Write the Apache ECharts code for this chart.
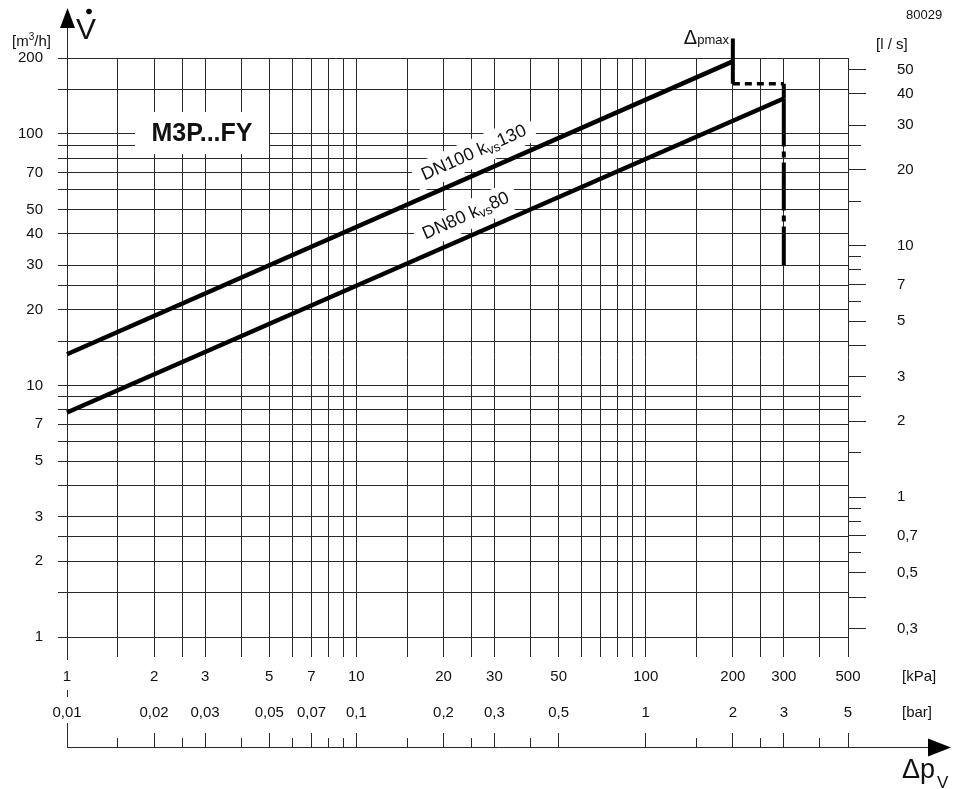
<!DOCTYPE html>
<html>
<head>
<meta charset="utf-8">
<script src="https://cdn.jsdelivr.net/npm/echarts@6/dist/echarts.min.js"></script>
<style>
html,body{margin:0;padding:0;background:#fff;}
#c{width:962px;height:789px;}
</style>
</head>
<body>
<div id="c"></div>
<script>
// ---------- axis ranges ----------
const xMinKpa = 1, xMaxKpa = 500;
const yMinM3h = 1, yMaxM3h = 200;
const kpaPerBar = 100;
const m3hPerLs = 3.6;

// ---------- grid / tick values ----------
const vGridKpa = [1,1.5,2,2.5,3,4,5,6,7,8,9,10,15,20,25,30,40,50,60,70,80,90,100,150,200,250,300,400,500];
const hGridM3h = [1,1.5,2,2.5,3,4,5,6,7,8,9,10,15,20,25,30,40,50,60,70,80,90,100,150,200];
const kpaLabels = [1,2,3,5,7,10,20,30,50,100,200,300,500];
const m3hLabels = [200,100,70,50,40,30,20,10,7,5,3,2,1];
const barMajorTicks = [0.01,0.02,0.03,0.05,0.07,0.1,0.2,0.3,0.5,1,2,3,5];
const barMinorTicks = [0.015,0.025,0.04,0.06,0.08,0.09,0.15,0.25,0.4,1.5,2.5,4];
const barLabels = [0.01,0.02,0.03,0.05,0.07,0.1,0.2,0.3,0.5,1,2,3,5];
const lsMajorTicks = [50,40,30,20,10,7,5,4,3,2,1,0.7,0.5,0.4,0.3];
const lsMinorTicks = [25,15,9,8,6,2.5,1.5,0.9,0.8,0.6];
const lsLabels = [50,40,30,20,10,7,5,3,2,1,0.7,0.5,0.3];

// ---------- series values ----------
const dn100Kpa = [1, 200];
const dn100M3h = [13.3, 194];
const dn80Kpa = [1, 300];
const dn80M3h = [7.8, 138];
const dpmaxTopKpa = [200, 200];
const dpmaxTopM3h = [239, 158];
const dpmaxDashKpa = [200, 300];
const dpmaxDashM3h = [158, 158];
const dpmaxStepKpa = [300, 300];
const dpmaxStepM3h = [158, 138];
const dpmaxLimitKpa = [300, 300];
const dpmaxLimitM3h = [138, 30];

// ---------- helpers ----------
const FONT = '"Liberation Sans", Arial, Helvetica, sans-serif';
const INK = '#111';
const GRIDC = '#2a2a2a';
const comma = v => String(v).replace('.', ',');
const crisp = v => Math.round(v - 0.5) + 0.5;
const zip = (a, b) => a.map((v, i) => [v, b[i]]);
function lineEl(x1, y1, x2, y2, w) {
  return {type: 'line', shape: {x1, y1, x2, y2}, style: {stroke: GRIDC, lineWidth: w || 1}};
}
function textEl(x, y, text, size, align) {
  return {type: 'text', x, y, style: {text, fill: INK, fontSize: size, fontFamily: FONT, align, verticalAlign: 'middle'}};
}
function custom(xi, yi, data, render) {
  return {type: 'custom', coordinateSystem: 'cartesian2d', xAxisIndex: xi, yAxisIndex: yi,
    data, renderItem: render, silent: true, clip: false, z: 1, animation: false};
}
function curve(xs, ys, width, type) {
  return {type: 'line', data: zip(xs, ys), symbol: 'none', showSymbol: false, clip: false, silent: true,
    lineStyle: {color: '#000', width, type: type || 'solid', cap: 'butt'}, z: 5, animation: false};
}

const series = [
  // vertical grid lines (extend below plot)
  custom(0, 0, vGridKpa.map(v => [v, yMinM3h]), (p, api) => {
    const x = api.value(0);
    const b = api.coord([x, yMinM3h]), t = api.coord([x, yMaxM3h]);
    const cx = crisp(b[0]);
    const els = [lineEl(cx, b[1] + (p.dataIndex === 0 ? 23 : 20), cx, Math.round(t[1]))];
    if (p.dataIndex === 0) els.push(lineEl(cx, b[1] + 53, cx, b[1] + 60));
    return {type: 'group', children: els};
  }),
  // horizontal grid lines (extend left of plot)
  custom(0, 0, hGridM3h.map(v => [xMinKpa, v]), (p, api) => {
    const y = api.value(1);
    const l = api.coord([xMinKpa, y]), r = api.coord([xMaxKpa, y]);
    const cy = crisp(l[1]);
    return lineEl(l[0] - 9, cy, r[0], cy);
  }),
  // left labels (m3/h)
  custom(0, 0, m3hLabels.map(v => [xMinKpa, v]), (p, api) => {
    const v = api.value(1);
    const c = api.coord([xMinKpa, v]);
    return textEl(c[0] - 24, c[1], comma(v), 15, 'right');
  }),
  // kPa labels
  custom(0, 0, kpaLabels.map(v => [v, yMinM3h]), (p, api) => {
    const v = api.value(0);
    const c = api.coord([v, yMinM3h]);
    return textEl(c[0], c[1] + 40, comma(v), 15, 'center');
  }),
  // bar axis major ticks
  custom(1, 0, barMajorTicks.map(v => [v, yMinM3h]), (p, api) => {
    const v = api.value(0);
    const c = api.coord([v, yMinM3h]);
    const ay = c[1] + 110, cx = crisp(c[0]);
    return lineEl(cx, ay, cx, ay - (p.dataIndex === 0 ? 24 : 14));
  }),
  // bar axis minor ticks
  custom(1, 0, barMinorTicks.map(v => [v, yMinM3h]), (p, api) => {
    const v = api.value(0);
    const c = api.coord([v, yMinM3h]);
    const ay = c[1] + 110, cx = crisp(c[0]);
    return lineEl(cx, ay, cx, ay - 9);
  }),
  // bar labels
  custom(1, 0, barLabels.map(v => [v, yMinM3h]), (p, api) => {
    const v = api.value(0);
    const c = api.coord([v, yMinM3h]);
    return textEl(c[0], c[1] + 76, comma(v), 15, 'center');
  }),
  // right l/s major ticks
  custom(0, 1, lsMajorTicks.map(v => [xMaxKpa, v]), (p, api) => {
    const v = api.value(1);
    const c = api.coord([xMaxKpa, v]);
    const cy = crisp(c[1]);
    return lineEl(c[0], cy, c[0] + 18, cy);
  }),
  // right l/s minor ticks
  custom(0, 1, lsMinorTicks.map(v => [xMaxKpa, v]), (p, api) => {
    const v = api.value(1);
    const c = api.coord([xMaxKpa, v]);
    const cy = crisp(c[1]);
    return lineEl(c[0], cy, c[0] + 13, cy);
  }),
  // right labels
  custom(0, 1, lsLabels.map(v => [xMaxKpa, v]), (p, api) => {
    const v = api.value(1);
    const c = api.coord([xMaxKpa, v]);
    return textEl(c[0] + 49, c[1], comma(v), 15, 'left');
  }),
  // curves
  curve(dn100Kpa, dn100M3h, 4.5),
  curve(dn80Kpa, dn80M3h, 4.5),
  curve(dpmaxTopKpa, dpmaxTopM3h, 4),
  curve(dpmaxDashKpa, dpmaxDashM3h, 3.5, [7, 5]),
  curve(dpmaxStepKpa, dpmaxStepM3h, 4),
  curve(dpmaxLimitKpa, dpmaxLimitM3h, 4, [48, 5, 6, 5])
];

const richBase = {fontFamily: FONT, fill: INK};
const graphic = [
  // vertical axis arrow
  {type: 'line', shape: {x1: 67.5, y1: 27, x2: 67.5, y2: 58}, style: {stroke: GRIDC, lineWidth: 1}, z: 20},
  {type: 'polygon', shape: {points: [[60, 28], [67.5, 8], [75, 28]]}, style: {fill: '#000'}, z: 20},
  {type: 'text', x: 76, y: 31, style: {text: 'V', fill: INK, fontSize: 30, fontFamily: FONT, align: 'left', verticalAlign: 'middle'}, z: 20},
  {type: 'circle', shape: {cx: 89, cy: 11.5, r: 2.8}, style: {fill: '#000'}, z: 20},
  {type: 'text', x: 12, y: 42, style: {text: '{a|[m}{s|3}{a|/h]}', align: 'left', verticalAlign: 'middle',
    rich: {a: Object.assign({fontSize: 15}, richBase), s: Object.assign({fontSize: 10, padding: [0, 0, 10, 0]}, richBase)}}, z: 20},
  {type: 'text', x: 906, y: 15, style: {text: '80029', fill: INK, fontSize: 13, fontFamily: FONT, align: 'left', verticalAlign: 'middle'}, z: 20},
  {type: 'text', x: 876, y: 45, style: {text: '[l / s]', fill: INK, fontSize: 15, fontFamily: FONT, align: 'left', verticalAlign: 'middle'}, z: 20},
  {type: 'text', x: 729, y: 38, style: {text: '{d|Δ}{p|pmax}', align: 'right', verticalAlign: 'middle',
    rich: {d: Object.assign({fontSize: 20, verticalAlign: 'bottom'}, richBase), p: Object.assign({fontSize: 13, verticalAlign: 'bottom', padding: [0, 0, 1, 0]}, richBase)}}, z: 20},
  // title box
  {type: 'rect', shape: {x: 135, y: 112, width: 134, height: 42}, style: {fill: '#fff'}, z: 19},
  {type: 'text', x: 202, y: 134, style: {text: 'M3P...FY', fill: INK, fontSize: 25, fontWeight: 'bold', fontFamily: FONT, align: 'center', verticalAlign: 'middle'}, z: 20},
  // curve labels
  {type: 'text', x: 474, y: 153, rotation: 0.42, style: {text: '{a|DN100 k}{b|vs}{a|130}', align: 'center', verticalAlign: 'middle',
    backgroundColor: '#fff', padding: [3, 8],
    rich: {a: Object.assign({fontSize: 18}, richBase), b: Object.assign({fontSize: 13, padding: [9, 0, 0, 0]}, richBase)}}, z: 20},
  {type: 'text', x: 466, y: 216, rotation: 0.42, style: {text: '{a|DN80 k}{b|vs}{a|80}', align: 'center', verticalAlign: 'middle',
    backgroundColor: '#fff', padding: [3, 8],
    rich: {a: Object.assign({fontSize: 18}, richBase), b: Object.assign({fontSize: 13, padding: [9, 0, 0, 0]}, richBase)}}, z: 20},
  // bottom axis line + arrow
  {type: 'line', shape: {x1: 67, y1: 747.5, x2: 932, y2: 747.5}, style: {stroke: GRIDC, lineWidth: 1}, z: 20},
  {type: 'polygon', shape: {points: [[928, 738.5], [951, 747.5], [928, 756.5]]}, style: {fill: '#000'}, z: 20},
  {type: 'text', x: 902, y: 677, style: {text: '[kPa]', fill: INK, fontSize: 15, fontFamily: FONT, align: 'left', verticalAlign: 'middle'}, z: 20},
  {type: 'text', x: 902, y: 713, style: {text: '[bar]', fill: INK, fontSize: 15, fontFamily: FONT, align: 'left', verticalAlign: 'middle'}, z: 20},
  {type: 'text', x: 902, y: 771, style: {text: 'Δp', fill: INK, fontSize: 27, fontFamily: FONT, align: 'left', verticalAlign: 'middle'}, z: 20},
  {type: 'text', x: 937, y: 783, style: {text: 'V', fill: INK, fontSize: 17, fontFamily: FONT, align: 'left', verticalAlign: 'middle'}, z: 20}
];

const chart = echarts.init(document.getElementById('c'), null, {renderer: 'canvas'});
chart.setOption({
  animation: false,
  backgroundColor: '#fff',
  grid: {left: 67, top: 58, width: 781, height: 579, show: false},
  xAxis: [
    {type: 'log', logBase: 10, min: xMinKpa, max: xMaxKpa, show: false},
    {type: 'log', logBase: 10, min: xMinKpa / kpaPerBar, max: xMaxKpa / kpaPerBar, show: false}
  ],
  yAxis: [
    {type: 'log', logBase: 10, min: yMinM3h, max: yMaxM3h, show: false},
    {type: 'log', logBase: 10, min: yMinM3h / m3hPerLs, max: yMaxM3h / m3hPerLs, show: false}
  ],
  series,
  graphic
});
</script>
</body>
</html>
